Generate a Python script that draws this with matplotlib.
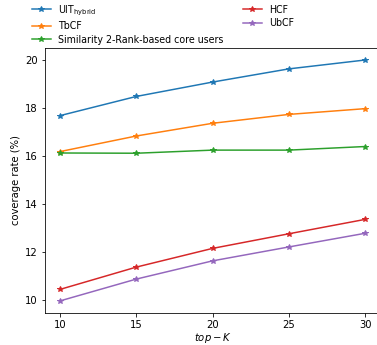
import matplotlib
matplotlib.use("Agg")
import matplotlib.pyplot as plt

top_k = [10, 15, 20, 25, 30]
uit_hybrid = [17.68, 18.48, 19.08, 19.63, 20.0]
tbcf = [16.18, 16.83, 17.36, 17.73, 17.97]
similarity_core = [16.12, 16.11, 16.24, 16.24, 16.39]
hcf = [10.43, 11.36, 12.14, 12.75, 13.35]
ubcf = [9.95, 10.86, 11.62, 12.2, 12.77]

labels = [r"UIT$_{\mathrm{hybrid}}$", "TbCF", "Similarity 2-Rank-based core users", "HCF", "UbCF"]
series = [uit_hybrid, tbcf, similarity_core, hcf, ubcf]
colors = ["#1f77b4", "#ff7f0e", "#2ca02c", "#d62728", "#9467bd"]

dpi = 72
fig = plt.figure(figsize=(377 / dpi, 345 / dpi), dpi=dpi)
ax = fig.add_axes([0.119, 0.093, 0.89, 0.768])

for vals, lab, c in zip(series, labels, colors):
    ax.plot(top_k, vals, marker="*", color=c, label=lab)

ax.set_xticks(top_k)
ax.set_xlabel(r"$top-K$", labelpad=1)
ax.set_ylabel("coverage rate (%)")
ax.legend(loc="lower left", bbox_to_anchor=(-0.039, 1.012), ncol=2, frameon=False,
          borderaxespad=0, borderpad=0, fontsize=9.5, labelspacing=0.38)

fig.savefig("out.png", dpi=dpi)
